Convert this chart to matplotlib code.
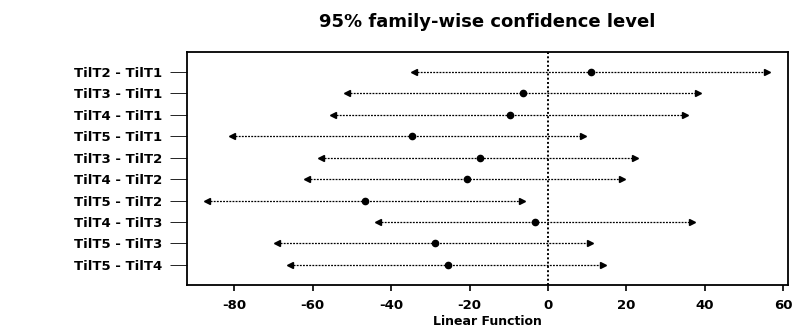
import matplotlib
matplotlib.use("Agg")
import matplotlib.pyplot as plt

comparisons = ["TilT2 - TilT1", "TilT3 - TilT1", "TilT4 - TilT1", "TilT5 - TilT1",
               "TilT3 - TilT2", "TilT4 - TilT2", "TilT5 - TilT2", "TilT4 - TilT3",
               "TilT5 - TilT3", "TilT5 - TilT4"]
diff = [11.0, -6.4, -9.7, -34.7, -17.3, -20.7, -46.7, -3.3, -28.8, -25.5]
lwr = [-34.2, -51.3, -54.8, -80.6, -57.9, -61.5, -87.0, -43.4, -69.1, -65.8]
upr = [55.9, 38.3, 35.0, 9.0, 22.2, 18.9, -6.6, 36.7, 10.7, 14.0]
xticks = [-80, -60, -40, -20, 0, 20, 40, 60]

fig = plt.figure(figsize=(7.99, 3.32), dpi=100)
ax = fig.add_axes([0.234, 0.142, 0.752, 0.701])

n = len(comparisons)
ypos = list(range(n, 0, -1))
for y, d, lo, hi in zip(ypos, diff, lwr, upr):
    ax.plot([lo, hi], [y, y], color="black", lw=0.9, ls=(0, (1.5, 1)))
    ax.plot([lo], [y], marker="<", color="black", ms=5)
    ax.plot([hi], [y], marker=">", color="black", ms=5)
    ax.plot([d], [y], marker="o", color="black", ms=4.5)

ax.axvline(0, color="black", lw=1.4, ls=(0, (1, 1.2)))

ax.set_xlim(-92.1, 61.2)
ax.set_ylim(0.07, n + 0.93)
ax.set_yticks(ypos)
ax.set_yticklabels(comparisons, fontsize=9.5, fontweight="bold")
ax.set_xticks(xticks)
ax.set_xticklabels([str(v) for v in xticks], fontsize=9.5, fontweight="bold")
ax.tick_params(axis="y", length=12, width=0.6, pad=6)
ax.tick_params(axis="x", length=4, width=1.2, pad=6)
for s in ax.spines.values():
    s.set_linewidth(1.3)

ax.set_xlabel("Linear Function", fontsize=9, fontweight="bold", labelpad=2)
fig.text(0.61, 0.935, "95% family-wise confidence level", ha="center", va="center",
         fontsize=13, fontweight="bold")

fig.savefig("out.png", dpi=100)
